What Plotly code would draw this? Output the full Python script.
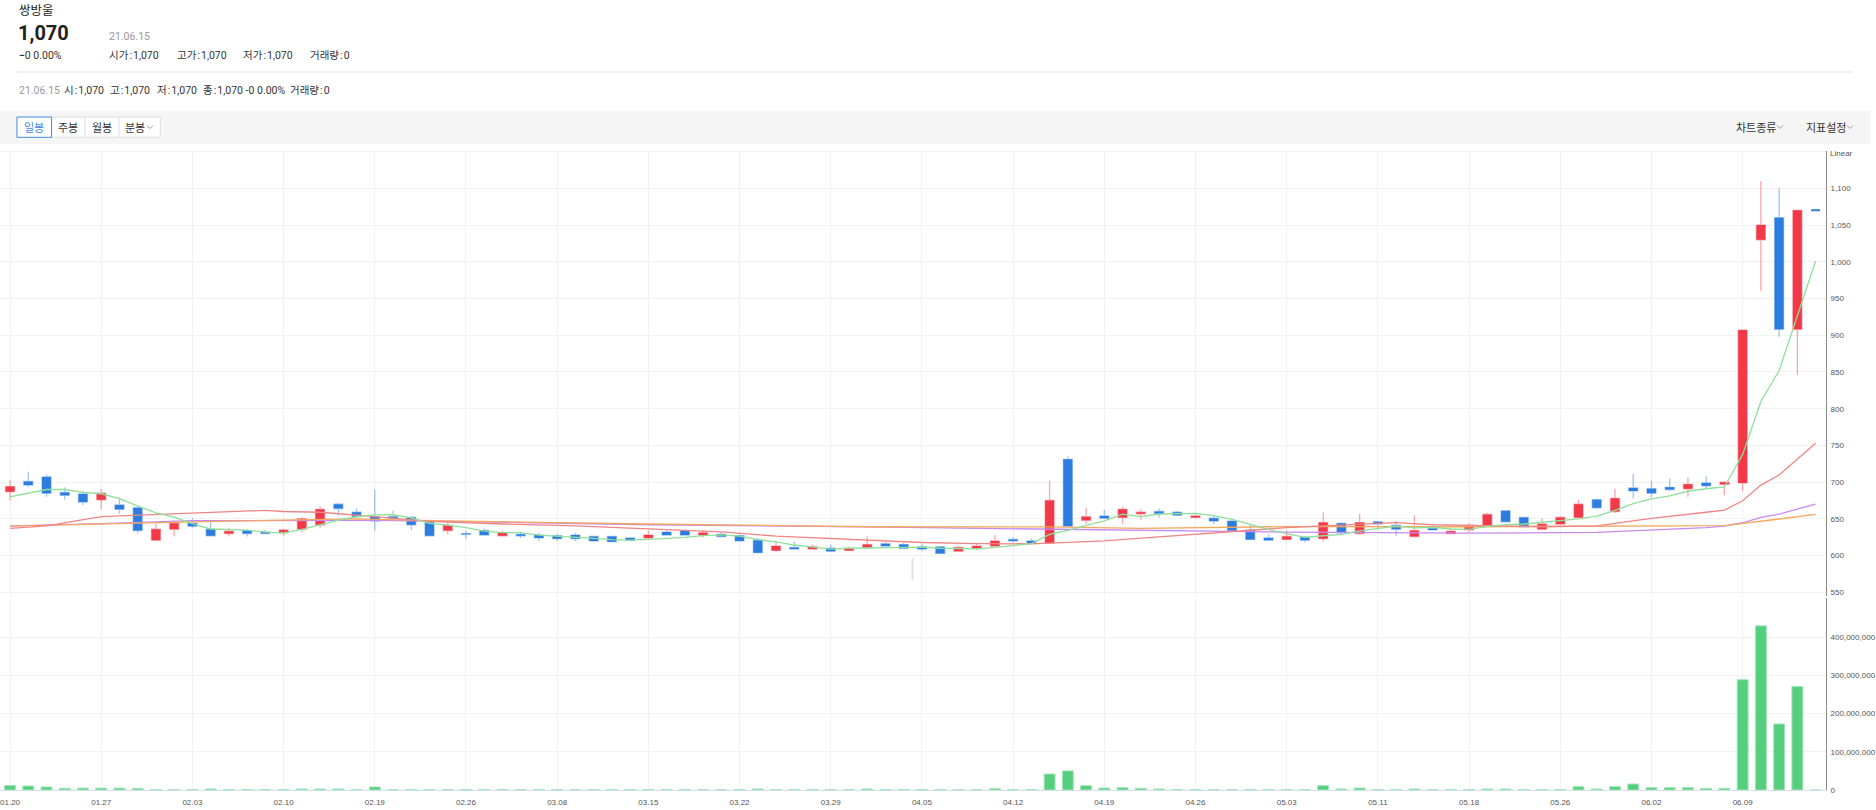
import plotly.graph_objects as go

# ---------------- data ----------------
tick_idx = list(range(0, 100, 5))
tick_labels = ["01.20", "01.27", "02.03", "02.10", "02.19", "02.26", "03.08", "03.15",
               "03.22", "03.29", "04.05", "04.12", "04.19", "04.26", "05.03", "05.11",
               "05.18", "05.26", "06.02", "06.09"]

opens = [687, 701, 707, 686, 684, 676, 669, 665, 621, 636, 644, 636, 630, 634, 632, 631, 636, 642, 670, 659,
         653, 653, 652, 645, 634, 630, 634, 627, 629, 628, 627, 628, 626, 626, 624, 624, 632, 634, 628, 629,
         627, 621, 607, 611, 609, 610, 607, 611, 616, 615, 612, 612, 606, 610, 613, 622, 620, 617, 731, 648,
         654, 652, 657, 660, 659, 652, 651, 647, 635, 624, 622, 625, 623, 644, 630, 646, 641, 626, 637, 630,
         635, 641, 661, 652, 636, 643, 652, 676, 660, 692, 691, 693, 691, 699, 697, 699, 1030, 1060, 908, 1070]
highs = [703, 714, 710, 693, 688, 691, 679, 667, 644, 648, 651, 648, 638, 636, 635, 637, 652, 667, 672, 664,
         690, 661, 654, 649, 645, 634, 637, 634, 632, 631, 630, 631, 627, 626, 625, 634, 634, 636, 634, 632,
         630, 624, 620, 619, 615, 615, 612, 626, 619, 617, 616, 612, 613, 616, 628, 625, 623, 702, 735, 665,
         662, 667, 663, 664, 661, 657, 653, 649, 642, 629, 634, 627, 659, 645, 657, 646, 647, 655, 643, 636,
         644, 658, 661, 653, 651, 654, 676, 678, 691, 711, 702, 705, 706, 708, 701, 907, 1110, 1100, 1070, 1070]
lows = [675, 693, 680, 676, 669, 663, 657, 630, 621, 626, 638, 627, 626, 626, 629, 627, 632, 638, 655, 651,
        634, 648, 635, 627, 629, 623, 627, 626, 624, 620, 620, 620, 619, 618, 620, 622, 627, 627, 625, 625,
        619, 603, 605, 609, 608, 605, 607, 609, 612, 609, 606, 603, 606, 608, 613, 618, 616, 617, 640, 643,
        651, 643, 649, 652, 654, 650, 643, 632, 622, 620, 621, 618, 619, 629, 629, 635, 627, 626, 635, 630,
        631, 641, 646, 639, 636, 643, 652, 663, 658, 678, 679, 688, 680, 691, 682, 688, 960, 898, 846, 1070]
closes = [694, 696, 685, 682, 673, 685, 663, 634, 636, 644, 640, 627, 633, 630, 630, 635, 650, 663, 664, 653,
          647, 651, 642, 627, 641, 629, 628, 631, 627, 624, 623, 623, 620, 619, 621, 628, 628, 628, 631, 626,
          620, 604, 613, 609, 612, 606, 610, 615, 613, 610, 609, 603, 611, 613, 620, 620, 617, 675, 640, 653,
          651, 663, 659, 657, 655, 654, 647, 634, 622, 621, 626, 621, 645, 631, 645, 643, 636, 634, 635, 633,
          641, 656, 646, 639, 643, 652, 670, 665, 678, 688, 685, 690, 697, 695, 700, 907, 1050, 908, 1070, 1070]

# volume in millions of shares
volume_m = [12, 10.5, 8, 4.4, 5, 5, 5, 4.4, 1, 1, 1, 2.6, 1, 1, 1, 1, 2.6, 2.6, 2.6, 1,
            7.9, 1, 1, 1, 1, 1, 1, 1, 1, 1, 1, 1, 1, 1, 1, 1, 1, 1, 1, 1,
            1, 2.6, 1, 1, 1, 1, 1, 2.6, 1, 1, 1, 1, 1, 1, 3.5, 1, 1, 42, 50, 11.4,
            5.2, 6.1, 4.4, 2.6, 1, 1, 1, 1, 1, 1, 1, 1, 11.4, 2.6, 5.2, 1, 1, 2.6, 1, 1,
            1, 2.6, 2.6, 1, 1, 1, 8.7, 2.6, 8.7, 15.7, 6.1, 6.1, 6.1, 4.4, 4.4, 289, 430, 173, 271, 0]

# moving averages
ma5 = [680, 685, 690, 690, 686, 684.2, 677.6, 667.4, 658.2, 652.4, 643.4, 636.2, 636, 634.8, 632, 631,
       635.6, 641.6, 648.4, 653, 655.4, 655.6, 651.4, 644, 641.6, 638, 633.4, 631.2, 631.2, 627.8, 626.6,
       625.6, 623.4, 621.8, 621.2, 622.2, 623.2, 624.8, 627.2, 628.2, 626.6, 621.8, 618.8, 614.4, 611.6,
       608.8, 610, 610.4, 611.2, 610.8, 611.4, 610, 609.2, 609.2, 611.2, 613.4, 616.2, 629, 634.4, 641,
       647.2, 656.4, 653.2, 656.6, 657, 657.6, 654.4, 649.4, 642.4, 635.6, 630, 624.8, 627, 628.8, 633.6,
       637, 640, 637.8, 638.6, 636.2, 635.8, 639.8, 642.2, 643, 645, 647.2, 650, 653.8, 661.6, 670.6,
       677.2, 681.2, 687.6, 691, 693.4, 737.8, 809.8, 852, 927, 1001]
ma20_x = [0, 2, 5, 6, 10, 14, 15, 17, 20, 22, 23, 27, 31, 35, 39, 42, 45, 47, 50, 53, 56, 57, 60, 63,
          66, 68, 70, 72, 76, 78, 81, 84, 87, 90, 93, 94, 95, 96, 97, 98, 99]
ma20_y = [637, 640.6, 653, 654, 657.5, 661.6, 660, 659, 653, 649.3, 646.6, 643, 640.6, 636.5, 632.4,
          626.5, 623.3, 620.5, 617.8, 616.4, 616, 617, 620, 625.6, 631, 634.7, 638, 640.6, 644.8, 642,
          641, 639.3, 640.6, 650.7, 659, 662, 674.7, 696, 709.7, 731, 752.8]
ma60_x = [0, 10, 19, 23, 35, 47, 57, 62, 70, 80, 94, 95, 97, 99]
ma60_y = [640, 646, 650, 647.5, 643, 639.3, 639, 637, 639.5, 639.3, 640.7, 644, 649.8, 656]
ma120_x = [0, 5, 10, 20, 23, 35, 47, 57, 65, 70, 80, 87, 93, 94, 95, 96, 97, 99]
ma120_y = [640.6, 643.5, 647.5, 648, 647, 642, 639, 636, 633, 632, 630.6, 631.5, 638, 640, 644.7, 652, 656.6, 670]

price_ticks = list(range(550, 1101, 50))
vol_ticks = [0, 100e6, 200e6, 300e6, 400e6]

# ---------------- geometry ----------------
W, H = 1876, 810
ML, MR, MT, MB = 0, 45, 151, 20
PW, PH = W - ML - MR, H - MT - MB


def px(x):
    return (x - ML) / PW


def py(y):
    return (H - MB - y) / PH


RED = "#f2394a"
RED_L = "rgba(242,57,74,0.45)"
BLUE = "#2d7de0"
BLUE_L = "rgba(45,125,224,0.45)"
GREEN = "#55cf7e"
GREEN_L = "#a3e6b8"
GRID = "#f2f2f2"
TICKFONT = dict(family="Liberation Sans Narrow, Arial Narrow, Liberation Sans, Arial", size=8, color="#555")
HFONT = "Roboto, Noto Sans CJK KR, sans-serif"

idx = list(range(len(closes)))
up = [i for i in idx if closes[i] > opens[i]]
dn = [i for i in idx if closes[i] < opens[i]]
flat = [i for i in idx if closes[i] == opens[i]]

fig = go.Figure()


def candle(sel, fill, line, width=1.3):
    return go.Candlestick(
        x=sel, open=[opens[i] for i in sel], high=[highs[i] for i in sel],
        low=[lows[i] for i in sel], close=[closes[i] for i in sel],
        increasing=dict(line=dict(color=line, width=width), fillcolor=fill),
        decreasing=dict(line=dict(color=line, width=width), fillcolor=fill),
        xaxis="x", yaxis="y", hoverinfo="skip", showlegend=False)


fig.add_trace(go.Scatter(x=ma120_x, y=ma120_y, mode="lines", line=dict(color="#c58af2", width=1.3),
                         xaxis="x", yaxis="y", hoverinfo="skip", showlegend=False))
fig.add_trace(go.Scatter(x=ma60_x, y=ma60_y, mode="lines", line=dict(color="#f4a85e", width=1.3),
                         xaxis="x", yaxis="y", hoverinfo="skip", showlegend=False))
fig.add_trace(go.Scatter(x=ma20_x, y=ma20_y, mode="lines", line=dict(color="#f08585", width=1.3),
                         xaxis="x", yaxis="y", hoverinfo="skip", showlegend=False))
fig.add_trace(candle(up, RED, RED_L))
fig.add_trace(candle(dn, BLUE, BLUE_L))
fig.add_trace(candle(flat, BLUE, BLUE, width=2))
fig.add_trace(go.Scatter(x=idx, y=ma5, mode="lines", line=dict(color="#8ee09a", width=1.3),
                         xaxis="x", yaxis="y", hoverinfo="skip", showlegend=False))
fig.add_trace(go.Bar(x=idx, y=[v * 1e6 for v in volume_m], width=0.6,
                     marker=dict(color=GREEN, line=dict(color=GREEN_L, width=1)),
                     xaxis="x2", yaxis="y2", hoverinfo="skip", showlegend=False))

xr = [-0.55, 99.57]
fig.update_layout(
    width=W, height=H, margin=dict(l=ML, r=MR, t=MT, b=MB, pad=0),
    paper_bgcolor="white", plot_bgcolor="white",
    font=dict(family="Noto Sans CJK KR, Roboto, sans-serif", color="#333"),
    showlegend=False, hovermode=False,
    xaxis=dict(domain=[0, 1], range=xr, anchor="y", tickvals=tick_idx, showticklabels=False,
               showgrid=True, gridcolor=GRID, zeroline=False, showline=False,
               rangeslider=dict(visible=False), fixedrange=True),
    xaxis2=dict(domain=[0, 1], range=xr, anchor="y2", tickvals=tick_idx, ticktext=tick_labels,
                tickfont=TICKFONT, ticks="outside", ticklen=4, tickcolor="rgba(0,0,0,0)",
                showgrid=True, gridcolor=GRID, zeroline=False, showline=True,
                linecolor="#d3dfea", linewidth=1, fixedrange=True),
    yaxis=dict(domain=[py(596), 1], range=[545, 1150.8], side="right", anchor="x",
               tickvals=price_ticks, ticktext=[f"{v:,}" for v in price_ticks], tickfont=TICKFONT,
               ticks="outside", ticklen=2, tickcolor="rgba(0,0,0,0)",
               showgrid=True, gridcolor=GRID, zeroline=False, showline=True,
               linecolor="#8a8a8a", linewidth=1, fixedrange=True),
    yaxis2=dict(domain=[0, py(598)], range=[0, 503e6], side="right", anchor="x2",
                tickvals=vol_ticks, ticktext=[f"{int(v):,}" for v in vol_ticks], tickfont=TICKFONT,
                ticks="outside", ticklen=2, tickcolor="rgba(0,0,0,0)",
                showgrid=True, gridcolor=GRID, zeroline=False, showline=True,
                linecolor="#8a8a8a", linewidth=1, fixedrange=True),
)


def chevron(cx, cy):
    return dict(type="path", xref="paper", yref="paper",
                path=f"M {px(cx - 3)},{py(cy - 1.5)} L {px(cx)},{py(cy + 1.5)} L {px(cx + 3)},{py(cy - 1.5)}",
                line=dict(color="#9a9a9a", width=1))


shapes = [
    dict(type="line", xref="paper", yref="paper", x0=px(17), x1=px(1858), y0=py(72), y1=py(72),
         line=dict(color="#e3e3e3", width=1)),
    dict(type="rect", xref="paper", yref="paper", x0=px(0), x1=px(W), y0=py(144), y1=py(111),
         fillcolor="#f5f5f5", line=dict(width=0), layer="below"),
    dict(type="rect", xref="paper", yref="paper", x0=px(51.7), x1=px(160.7), y0=py(137.3), y1=py(117),
         fillcolor="white", line=dict(color="#dddddd", width=1)),
    dict(type="line", xref="paper", yref="paper", x0=px(85.3), x1=px(85.3), y0=py(137.3), y1=py(117),
         line=dict(color="#dddddd", width=1)),
    dict(type="line", xref="paper", yref="paper", x0=px(119.3), x1=px(119.3), y0=py(137.3), y1=py(117),
         line=dict(color="#dddddd", width=1)),
    dict(type="rect", xref="paper", yref="paper", x0=px(17), x1=px(51.7), y0=py(137.3), y1=py(117),
         fillcolor="white", line=dict(color="#3f87e6", width=1)),
    # light top border of price pane
    dict(type="line", xref="paper", yref="paper", x0=0, x1=1, y0=py(151.5), y1=py(151.5),
         line=dict(color="#f2f2f2", width=1), layer="below"),
    # faint gray vertical marker near 04.05
    dict(type="line", xref="paper", yref="paper", x0=px(915), x1=px(915), y0=py(558), y1=py(580),
         line=dict(color="#e3e3e3", width=2)),
    chevron(150.5, 127), chevron(1785, 127), chevron(1855, 127),
]
fig.update_layout(shapes=shapes)


def ann(x, y, text, size=11, color="#333", anchor="left", family=HFONT, bold=False):
    fig.add_annotation(x=px(x), y=py(y), xref="paper", yref="paper",
                       text=f"<b>{text}</b>" if bold else text,
                       showarrow=False, xanchor=anchor, yanchor="middle",
                       font=dict(size=size, color=color, family=family))


ts = "\u200a:\u200a"
ann(17, 10, "쌍방울", size=12.5, color="#222", family="Noto Sans CJK KR")
ann(16, 33, "1,070", size=20, color="#222", bold=True)
ann(107, 36, "21.06.15", size=10.5, color="#999")
ann(17, 55, "<b>−</b>0 0.00%", size=10.5, color="#333")
ann(107, 55, f"시가{ts}1,070", size=10.5)
ann(175, 55, f"고가{ts}1,070", size=10.5)
ann(242, 55, f"저가{ts}1,070", size=10.5)
ann(309, 55, f"거래량{ts}0", size=10.5)

ann(17, 91, "21.06.15", size=10.5, color="#999")
ann(62, 91, f"시{ts}1,070", size=10.5)
ann(108, 91, f"고{ts}1,070", size=10.5)
ann(155, 91, f"저{ts}1,070", size=10.5)
ann(202, 91, f"종{ts}1,070 -0 0.00%", size=10.5)
ann(289, 91, f"거래량{ts}0", size=10.5)

ann(34.4, 127, "일봉", size=11, color="#3f87e6", anchor="center", family="Noto Sans CJK KR")
ann(68.5, 127, "주봉", size=11, color="#333", anchor="center", family="Noto Sans CJK KR")
ann(102.3, 127, "월봉", size=11, color="#333", anchor="center", family="Noto Sans CJK KR")
ann(135, 127, "분봉", size=11, color="#333", anchor="center", family="Noto Sans CJK KR")
ann(1760.5, 126.5, "차트종류", size=11, color="#333", anchor="center", family="Noto Sans CJK KR")
ann(1830.5, 126.5, "지표설정", size=11, color="#333", anchor="center", family="Noto Sans CJK KR")
ann(1833, 154, "Linear", size=8, color="#555", family=TICKFONT["family"])

fig.write_html("out.html", config=dict(displayModeBar=False),
               post_script="document.body.style.margin='0';document.body.style.overflow='hidden';")
